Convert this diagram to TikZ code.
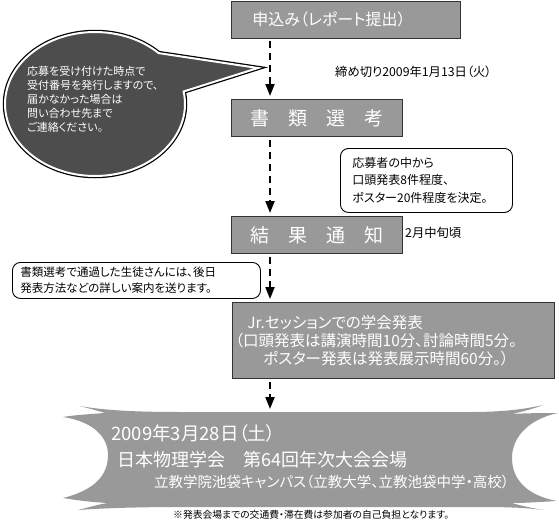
\documentclass[tikz,border=0pt]{standalone}
\usepackage{fontspec}
\setmainfont{Noto Sans CJK JP}[RawFeature=+palt]
\usepackage{tikz}
\usetikzlibrary{arrows.meta, calc}
\usepackage{xcolor}
\definecolor{boxgray}{HTML}{999999}
\definecolor{boxline}{HTML}{333333}
\definecolor{bubblefill}{HTML}{4D4D4D}

\tikzset{
  stepbox/.style={draw=boxline, fill=boxgray, line width=0.8pt, text=white, inner sep=0pt, anchor=north west, minimum height=37pt},
  flowarrow/.style={draw=black, line width=2pt, dash pattern=on 7pt off 5pt, -{Triangle[length=12pt, width=9pt]}, shorten >=3pt, shorten <=3pt},
  notebox/.style={draw=black, line width=0.9pt, rounded corners=8pt, align=left, anchor=north west, inner ysep=0pt},
  plaintext/.style={anchor=west, inner sep=0pt, font=\fontsize{12.3}{14}\selectfont}
}

\begin{document}
\begin{tikzpicture}[x=1pt, y=1pt]
  \useasboundingbox (0,0) rectangle (559,-520);
  \coordinate (spine) at (270,0);

  % Speech bubble
  \coordinate (bubc) at (95,-104);
  \coordinate (bubtip) at (258,-68);
  \path[fill=bubblefill, draw=white, line width=2pt, preaction={draw=black, line width=4.5pt}]
    ($(bubc)+(10:90pt and 72pt)$) -- (bubtip) -- ($(bubc)+(45:90pt and 72pt)$)
    arc[start angle=45, end angle=370, x radius=90pt, y radius=72pt] -- cycle;
  \node[anchor=north west, align=left, text=white, inner sep=0pt, font=\fontsize{11}{14}\selectfont] (bubtext) at (27,-66)
    {応募を受け付けた時点で\\受付番号を発行しますので、\\届かなかった場合は\\問い合わせ先まで\\ご連絡ください。};

  % Flow boxes
  \node[stepbox, text width=187pt, inner xsep=21pt, align=left, font=\fontsize{16}{18}\selectfont] (apply) at (231,-0.5) {申込み（レポート提出）};
  \node[stepbox, minimum width=171pt, font=\fontsize{19}{22}\selectfont] (screen) at (231,-99) {書　類　選　考};
  \node[stepbox, minimum width=171pt, font=\fontsize{19}{22}\selectfont] (notify) at (231,-216) {結　果　通　知};
  \node[stepbox, minimum height=76pt, text width=316pt, inner xsep=3pt, align=left, font=\fontsize{15.5}{18}\selectfont] (session) at (232,-302)
    {\hspace*{12pt}Jr.セッションでの学会発表\\（口頭発表は講演時間10分、討論時間5分。\\\hspace*{28pt}ポスター発表は発表展示時間60分。）};

  % Side notes
  \node[plaintext] (deadline) at (335,-72) {締め切り2009年1月13日（火）};
  \node[notebox, text width=148pt, inner xsep=12pt, minimum height=64pt, font=\fontsize{12}{17.5}\selectfont] (select) at (340,-148)
    {応募者の中から\\口頭発表8件程度、\\ポスター20件程度を決定。};
  \node[plaintext] (midfeb) at (405,-233) {2月中旬頃};
  \node[notebox, text width=232pt, inner xsep=8pt, minimum height=36pt, font=\fontsize{11.5}{16}\selectfont] (guide) at (12,-262)
    {書類選考で通過した生徒さんには、後日\\発表方法などの詳しい案内を送ります。};

  % Venue banner
  \fill[boxgray] (79,-406) .. controls (110,-411) and (140,-412) .. (185,-412) -- (470,-412)
    .. controls (505,-412) and (525,-409) .. (543,-405)
    .. controls (530,-410) and (520,-412) .. (512,-414)
    .. controls (530,-413) and (545,-413) .. (558,-413)
    .. controls (525,-420) and (512,-440) .. (512,-458)
    .. controls (512,-478) and (525,-495) .. (557,-501)
    .. controls (540,-502) and (525,-503) .. (512,-503)
    .. controls (522,-506) and (532,-508) .. (543,-510)
    .. controls (520,-507) and (500,-507) .. (470,-507) -- (185,-507)
    .. controls (140,-507) and (105,-508) .. (78,-510)
    .. controls (90,-507) and (100,-504) .. (108,-503)
    .. controls (90,-502) and (75,-500) .. (63,-498)
    .. controls (95,-490) and (108,-475) .. (108,-455)
    .. controls (108,-438) and (95,-422) .. (63,-417)
    .. controls (75,-415) and (90,-414) .. (105,-413)
    .. controls (95,-410) and (88,-408) .. (79,-406) -- cycle;
  \coordinate (bantop) at (270,-412);
  \node[anchor=west, inner sep=0pt, text=white, font=\fontsize{18.5}{20}\selectfont] (date) at (111,-433) {2009年3月28日（土）};
  \node[anchor=west, inner sep=0pt, text=white, font=\fontsize{18}{20}\selectfont] (meeting) at (117,-460) {日本物理学会　第64回年次大会会場};
  \node[anchor=west, inner sep=0pt, text=white, font=\fontsize{14.5}{17}\selectfont] (campus) at (154,-482) {立教学院池袋キャンパス（立教大学、立教池袋中学・高校）};
  \node[anchor=west, inner sep=0pt, font=\fontsize{9.8}{11}\selectfont] (costs) at (173,-515) {※発表会場までの交通費・滞在費は参加者の自己負担となります。};

  % Connectors
  \draw[flowarrow] (apply.south -| spine) -- (screen.north -| spine);
  \draw[flowarrow] (screen.south -| spine) -- (notify.north -| spine);
  \draw[flowarrow] (notify.south -| spine) -- (session.north -| spine);
  \draw[flowarrow] (session.south -| spine) -- (bantop);
\end{tikzpicture}
\end{document}
